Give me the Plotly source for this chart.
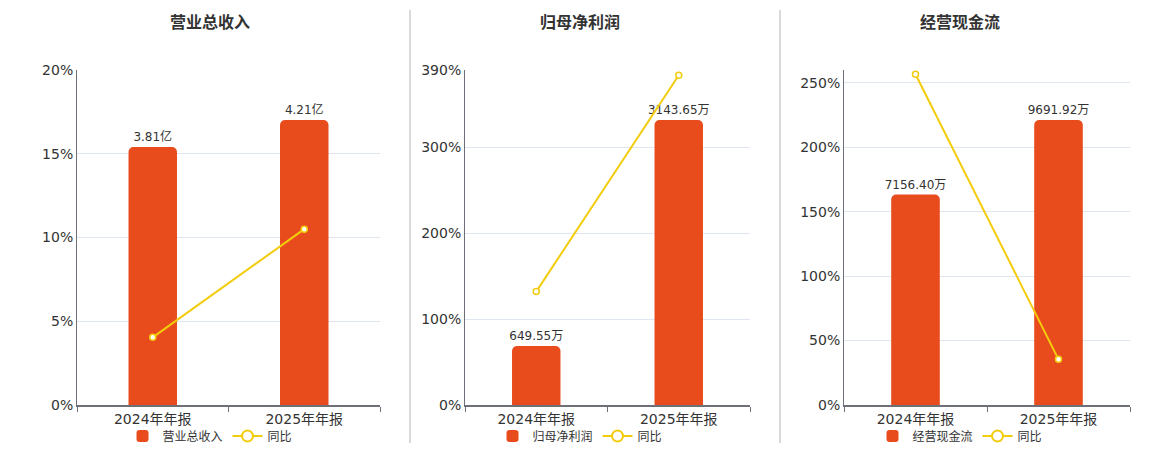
import plotly.graph_objects as go

# categories and values
periods = ["2024年年报", "2025年年报"]

revenue = [3.81, 4.21]            # 亿
revenue_text = ["3.81亿", "4.21亿"]
revenue_yoy = [4.04, 10.50]       # %

profit = [649.55, 3143.65]        # 万
profit_text = ["649.55万", "3143.65万"]
profit_yoy = [132.0, 383.97]

cash = [7156.40, 9691.92]         # 万
cash_text = ["7156.40万", "9691.92万"]
cash_yoy = [256.7, 35.43]

titles = ["营业总收入", "归母净利润", "经营现金流"]
yoy_name = "同比"

pct_ticks = [[0, 5, 10, 15, 20], [0, 100, 200, 300, 390], [0, 50, 100, 150, 200, 250, 260]]
pct_labels = [["0%", "5%", "10%", "15%", "20%"],
              ["0%", "100%", "200%", "300%", "390%"],
              ["0%", "50%", "100%", "150%", "200%", "250%", ""]]
pct_max = [20, 390, 260]

BAR = "#E84C1D"
LINE = "#F3CC0C"
AXIS = "#6E7079"
GRID = "#E0E6F1"
TXT = "#333333"
FONT = "DejaVu Sans, Noto Sans CJK SC, sans-serif"

W, H = 1160, 450
OFF = 8  # the page body adds an 8px margin, pull everything back by that much


def px(v):
    return (v - OFF) / W


def py(v):
    return (H - (v - OFF)) / H


plot_x = [(77, 380), (465, 750), (844, 1130)]
centers = [210, 580, 960]
bar_w = [0.32, 0.34, 0.34]
ydom = [py(405), py(70)]

fig = go.Figure()
panels = [(revenue, revenue_text, revenue_yoy),
          (profit, profit_text, profit_yoy),
          (cash, cash_text, cash_yoy)]

layout = {}
for i, (vals, txt, yoy) in enumerate(panels):
    n = i + 1
    xa = "x" if n == 1 else f"x{n}"
    yb_n = 2 * i + 1
    yp_n = 2 * i + 2
    yb = "y" if yb_n == 1 else f"y{yb_n}"
    yp = f"y{yp_n}"
    leg = "legend" if n == 1 else f"legend{n}"

    fig.add_trace(go.Bar(
        x=periods, y=vals, name=titles[i], xaxis=xa, yaxis=yb,
        width=bar_w[i], marker=dict(color=BAR, cornerradius=5, line=dict(width=0)),
        text=txt, textposition="outside", cliponaxis=False, constraintext="none",
        textfont=dict(size=12, color=TXT), legend=leg,
    ))
    fig.add_trace(go.Scatter(
        x=periods, y=yoy, name=yoy_name, xaxis=xa, yaxis=yp, mode="lines+markers",
        line=dict(color=LINE, width=2),
        marker=dict(symbol="circle", size=6, color="white", line=dict(color=LINE, width=1.5)),
        cliponaxis=False, showlegend=False,
    ))
    # legend entry only (bigger hollow circle, as in the reference legend)
    fig.add_trace(go.Scatter(
        x=[None], y=[None], name=yoy_name, xaxis=xa, yaxis=yp, mode="lines+markers",
        line=dict(color=LINE, width=2),
        marker=dict(symbol="circle", size=11, color="white", line=dict(color=LINE, width=2)),
        legend=leg, hoverinfo="skip",
    ))

    x0, x1 = plot_x[i]
    layout["xaxis" if n == 1 else f"xaxis{n}"] = dict(
        domain=[px(x0), px(x1)], anchor=yb, type="category", automargin=False,
        showline=True, linecolor=AXIS, linewidth=1.5,
        ticks="outside", tickson="boundaries", ticklen=5, tickcolor=AXIS,
        showgrid=False, tickfont=dict(size=14, color=TXT),
    )
    layout["yaxis" if yb_n == 1 else f"yaxis{yb_n}"] = dict(
        domain=ydom, anchor=xa, range=[0, max(vals) / 0.851], automargin=False,
        showgrid=False, showline=False, zeroline=False,
        showticklabels=False, ticks="",
    )
    layout[f"yaxis{yp_n}"] = dict(
        domain=ydom, anchor=xa, overlaying=yb, side="left", automargin=False,
        range=[0, pct_max[i]], tickvals=pct_ticks[i], ticktext=pct_labels[i],
        showgrid=True, gridcolor=GRID, gridwidth=1,
        showline=True, linecolor=AXIS, linewidth=1, zeroline=False,
        ticks="", tickfont=dict(size=14, color=TXT),
    )
    layout[leg] = dict(
        orientation="h", xref="container", yref="container",
        x=px(centers[i]), xanchor="center",
        y=py(436), yanchor="middle", font=dict(size=12, color=TXT),
        bgcolor="rgba(0,0,0,0)", traceorder="normal", itemclick=False,
    )

annotations = [dict(text=f"<b>{t}</b>", x=px(c), y=py(23), xref="paper", yref="paper",
                    xanchor="center", yanchor="middle", showarrow=False,
                    font=dict(size=16, color=TXT))
               for t, c in zip(titles, centers)]

shapes = [dict(type="line", xref="paper", yref="paper", x0=px(sx), x1=px(sx),
               y0=py(443), y1=py(10), line=dict(color="#B4B4B4", width=1))
          for sx in (410, 780)]

fig.update_layout(
    **layout,
    width=W, height=H,
    margin=dict(l=0, r=0, t=0, b=0, autoexpand=False),
    paper_bgcolor="white", plot_bgcolor="white",
    font=dict(family=FONT, color=TXT),
    barmode="group",
    annotations=annotations, shapes=shapes,
    hovermode="x",
)

fig.write_html("out.html")
